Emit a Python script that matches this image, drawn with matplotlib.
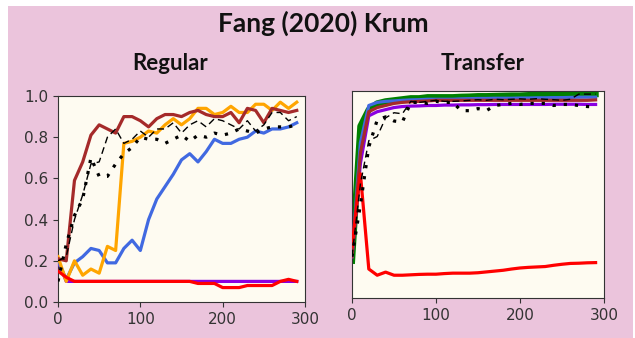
import matplotlib
matplotlib.use("Agg")
import matplotlib.pyplot as plt
from matplotlib.patches import Rectangle
import numpy as np

steps = list(range(0, 300, 10))

# Regular panel
reg_red = [0.15, 0.12, 0.10, 0.10, 0.10, 0.10, 0.10, 0.10, 0.10, 0.10, 0.10, 0.10, 0.10, 0.10, 0.10,
           0.10, 0.10, 0.09, 0.09, 0.09, 0.07, 0.07, 0.07, 0.08, 0.08, 0.08, 0.08, 0.10, 0.11, 0.10]
reg_purple = [0.20, 0.10, 0.10, 0.10, 0.10, 0.10, 0.10, 0.10, 0.10, 0.10, 0.10, 0.10, 0.10, 0.10, 0.10,
              0.10, 0.10, 0.10, 0.10, 0.10, 0.10, 0.10, 0.10, 0.10, 0.10, 0.10, 0.10, 0.10, 0.10, 0.10]
reg_blue = [0.20, 0.11, 0.19, 0.22, 0.26, 0.25, 0.19, 0.19, 0.26, 0.30, 0.25, 0.40, 0.50, 0.56, 0.62,
            0.69, 0.72, 0.68, 0.73, 0.79, 0.77, 0.77, 0.79, 0.80, 0.83, 0.82, 0.84, 0.84, 0.85, 0.87]
reg_orange = [0.22, 0.10, 0.20, 0.13, 0.16, 0.14, 0.27, 0.25, 0.77, 0.78, 0.80, 0.83, 0.82, 0.86, 0.89,
              0.86, 0.89, 0.94, 0.94, 0.91, 0.92, 0.95, 0.92, 0.92, 0.96, 0.96, 0.93, 0.97, 0.94, 0.97]
reg_brown = [0.21, 0.20, 0.59, 0.68, 0.81, 0.86, 0.84, 0.82, 0.90, 0.90, 0.88, 0.85, 0.89, 0.91, 0.91,
             0.90, 0.92, 0.93, 0.91, 0.90, 0.90, 0.92, 0.87, 0.94, 0.93, 0.87, 0.94, 0.93, 0.92, 0.93]
reg_dashed = [0.20, 0.22, 0.40, 0.52, 0.67, 0.68, 0.80, 0.84, 0.77, 0.79, 0.83, 0.80, 0.84, 0.84, 0.87,
              0.82, 0.86, 0.88, 0.85, 0.89, 0.88, 0.86, 0.84, 0.88, 0.83, 0.86, 0.92, 0.92, 0.88, 0.90]
reg_dotted = [0.10, 0.28, 0.42, 0.50, 0.70, 0.61, 0.61, 0.67, 0.72, 0.75, 0.80, 0.79, 0.79, 0.77, 0.79,
              0.81, 0.78, 0.81, 0.80, 0.82, 0.81, 0.82, 0.84, 0.83, 0.82, 0.84, 0.85, 0.85, 0.85, 0.86]

# Transfer panel
tr_green = [0.18, 0.83, 0.91, 0.94, 0.95, 0.955, 0.96, 0.965, 0.965, 0.97, 0.97, 0.97, 0.97, 0.972, 0.973,
            0.975, 0.975, 0.976, 0.977, 0.978, 0.978, 0.98, 0.98, 0.98, 0.98, 0.982, 0.983, 0.985, 0.985, 0.985]
tr_blue = [0.20, 0.75, 0.93, 0.945, 0.95, 0.952, 0.955, 0.957, 0.958, 0.96, 0.96, 0.96, 0.96, 0.962, 0.963,
           0.964, 0.964, 0.965, 0.965, 0.965, 0.966, 0.966, 0.967, 0.967, 0.968, 0.968, 0.969, 0.97, 0.97, 0.97]
tr_brown = [0.20, 0.70, 0.90, 0.92, 0.93, 0.94, 0.945, 0.948, 0.95, 0.952, 0.955, 0.955, 0.955, 0.955, 0.955,
            0.955, 0.955, 0.955, 0.955, 0.955, 0.955, 0.955, 0.955, 0.955, 0.955, 0.955, 0.955, 0.955, 0.955, 0.957]
tr_purple = [0.20, 0.65, 0.88, 0.90, 0.91, 0.92, 0.925, 0.927, 0.928, 0.93, 0.93, 0.932, 0.932, 0.933, 0.933,
             0.934, 0.934, 0.935, 0.935, 0.935, 0.935, 0.935, 0.935, 0.935, 0.936, 0.936, 0.936, 0.936, 0.935, 0.935]
tr_red = [0.25, 0.60, 0.14, 0.11, 0.125, 0.11, 0.11, 0.112, 0.114, 0.115, 0.115, 0.118, 0.12, 0.12, 0.12,
          0.122, 0.126, 0.13, 0.134, 0.14, 0.145, 0.148, 0.15, 0.152, 0.158, 0.163, 0.167, 0.168, 0.17, 0.171]
tr_dashed = [0.20, 0.55, 0.76, 0.78, 0.87, 0.895, 0.89, 0.95, 0.945, 0.95, 0.955, 0.95, 0.95, 0.952, 0.955,
             0.958, 0.955, 0.96, 0.958, 0.96, 0.962, 0.96, 0.963, 0.96, 0.958, 0.955, 0.96, 0.985, 0.985, 0.985]
tr_dotted = [0.20, 0.45, 0.73, 0.86, 0.875, 0.855, 0.85, 0.945, 0.945, 0.94, 0.95, 0.945, 0.945, 0.905, 0.905,
             0.915, 0.905, 0.93, 0.935, 0.94, 0.935, 0.94, 0.94, 0.94, 0.93, 0.935, 0.935, 0.93, 0.925, 0.923]

xticks = [0, 100, 200, 300]
yticks = [0.0, 0.2, 0.4, 0.6, 0.8, 1.0]

PINK = "#EBC4DC"
CREAM = "#FEFBF1"

fig = plt.figure(figsize=(6.35, 3.38), dpi=100, facecolor="white")
bg = Rectangle((8 / 635, 0), (633 - 8) / 635, 1 - 6 / 338,
               transform=fig.transFigure, facecolor=PINK,
               edgecolor="none", zorder=-10)
fig.patches.append(bg)

W, H = 635.0, 338.0
def ax_rect(x0, x1, y0, y1):
    return [x0 / W, 1 - y1 / H, (x1 - x0) / W, (y1 - y0) / H]

ax1 = fig.add_axes(ax_rect(58, 305, 96, 302))
ax2 = fig.add_axes(ax_rect(352, 604, 91, 298))

lw = 2.3
def draw(ax, red, purple, blue, orange, brown, dashed, dotted, green=None):
    if green is not None:
        ax.plot(steps, green, color="green", lw=4.5, zorder=2)
    ax.plot(steps, purple, color="#8A00E0", lw=lw, zorder=3)
    ax.plot(steps, red, color="red", lw=lw, zorder=4)
    if blue is not None:
        ax.plot(steps, blue, color="royalblue", lw=lw, zorder=3)
    if orange is not None:
        ax.plot(steps, orange, color="orange", lw=lw, zorder=3)
    ax.plot(steps, brown, color="brown", lw=lw, zorder=3)
    ax.plot(steps, dashed, color="black", lw=1.0, ls=(0, (5, 3)), zorder=5)
    ax.plot(steps, dotted, color="black", lw=2.3, ls=(0, (1, 2.5)), zorder=5)

draw(ax1, reg_red, reg_purple, reg_blue, reg_orange, reg_brown, reg_dashed, reg_dotted)
draw(ax2, tr_red, tr_purple, tr_blue, None, tr_brown, tr_dashed, tr_dotted, green=tr_green)

for ax in (ax1, ax2):
    ax.set_facecolor(CREAM)
    ax.set_xlim(0, 300)
    ax.set_ylim(0, 1.0)
    ax.set_xticks(xticks)
    ax.tick_params(labelsize=11, colors="#333333")
    for s in ax.spines.values():
        s.set_color("#333333")

ax1.set_yticks(yticks)
ax1.set_yticklabels([f"{v:.1f}" for v in yticks])
ax2.set_yticks([])

fig.text(323 / W, 1 - 23 / H, "Fang (2020) Krum", ha="center", va="center",
         fontsize=19, fontweight="bold", family="Lato", color="#111111")
fig.text(170 / W, 1 - 64 / H, "Regular", ha="center", va="center",
         fontsize=16, fontweight="bold", family="Lato", color="#111111")
fig.text(483 / W, 1 - 64 / H, "Transfer", ha="center", va="center",
         fontsize=16, fontweight="bold", family="Lato", color="#111111")

fig.savefig("out.png", dpi=100, facecolor="white")
